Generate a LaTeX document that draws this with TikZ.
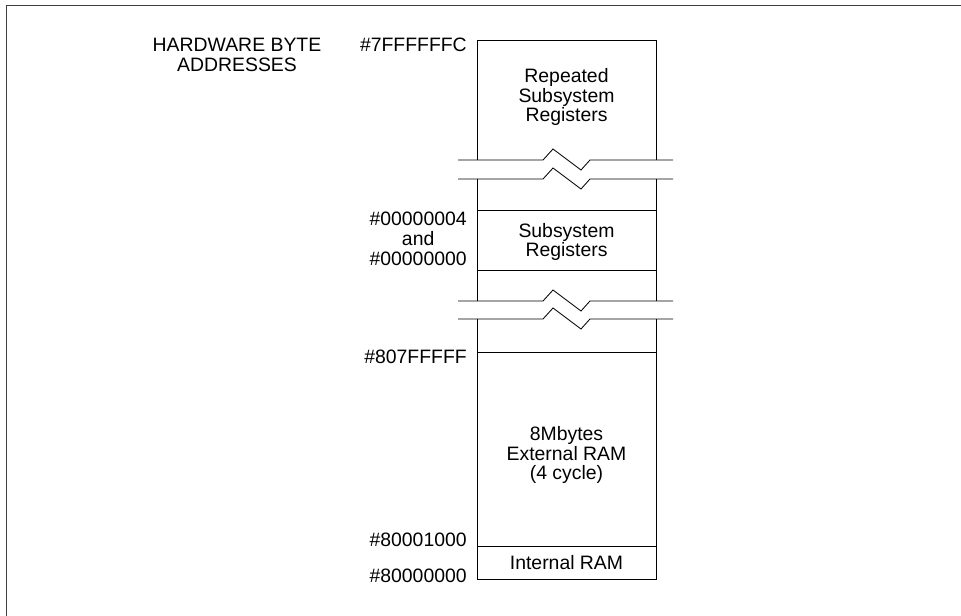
\documentclass[tikz,border=0pt]{standalone}
\usepackage{fontspec}
\setmainfont{Liberation Sans}
\usetikzlibrary{positioning}
\tikzset{
  every node/.style={font=\fontsize{13.8}{14.2}\selectfont, text=black, inner sep=0pt},
  cell/.style={align=center},
  addr/.style={anchor=east, align=center},
  wall/.style={draw=black, line width=0.6pt},
  frame/.style={draw=black!75, line width=0.6pt},
}
\newcommand{\breakline}[1]{%
  \draw[wall] (\xbL,#1) -- (543,#1) -- (553,#1-11) -- (581,#1+10) -- (590,#1) -- (\xbR,#1);}

\begin{document}
\begin{tikzpicture}[x=0.025cm, y=-0.025cm]
% ---- grid (px, y down) --------------------------------------------------------
\def\xL{477} \def\xR{656} \def\xM{566.5} \def\xA{467} \def\xbL{458} \def\xbR{673}
\def\yT{40} \def\yBa{160} \def\yBb{179} \def\yS{210} \def\ySb{270}
\def\yBc{301} \def\yBd{319} \def\yE{352} \def\yI{546} \def\yB{579}

\useasboundingbox (0,0) rectangle (961,616);
\draw[frame] (961,5) -- (6,5) -- (6,616);

% ---- column -------------------------------------------------------------------
\draw[wall] (\xL,\yBa) -- (\xL,\yT) -- (\xR,\yT) -- (\xR,\yBa);
\draw[wall] (\xL,\yBb) -- (\xL,\yBc);
\draw[wall] (\xR,\yBb) -- (\xR,\yBc);
\draw[wall] (\xL,\yBd) -- (\xL,\yB) -- (\xR,\yB) -- (\xR,\yBd);
\draw[wall] (\xL,\yS) -- (\xR,\yS);
\draw[wall] (\xL,\ySb) -- (\xR,\ySb);
\draw[wall] (\xL,\yE) -- (\xR,\yE);
\draw[wall] (\xL,\yI) -- (\xR,\yI);

% ---- breaks -------------------------------------------------------------------
\breakline{\yBa}
\breakline{\yBb}
\breakline{\yBc}
\breakline{\yBd}

% ---- cells --------------------------------------------------------------------
\node[cell] (rep)  at (\xM, 97) {Repeated\\Subsystem\\Registers};
\node[cell] (sub)  at (\xM, 242) {Subsystem\\Registers};
\node[cell] (ext)  at (\xM, 455) {8Mbytes\\External RAM\\(4 cycle)};
\node[cell] (iram) at (\xM, 563) {Internal RAM};

% ---- addresses ----------------------------------------------------------------
\node[cell] (title) at (237, 55) {HARDWARE BYTE\\ADDRESSES};
\node[addr] (aTop) at (\xA, 45) {\#7FFFFFFC};
\node[addr] (aSub) at (\xA, 239) {\#00000004\\and\\\#00000000};
\node[addr] (aExt) at (\xA, 357) {\#807FFFFF};
\node[addr] (aInt) at (\xA, 540) {\#80001000};
\node[addr] (aBot) at (\xA, 576) {\#80000000};
\end{tikzpicture}
\end{document}
